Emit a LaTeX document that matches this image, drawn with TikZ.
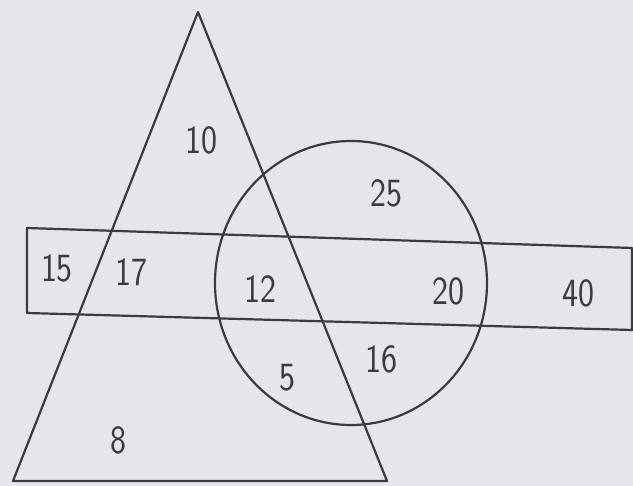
\documentclass[tikz,border=0pt]{standalone}
\usepackage{fontspec}
\definecolor{paper}{HTML}{E4E6E9}
\definecolor{pen}{HTML}{3A3B42}
\tikzstyle{every node}=[text=pen, font={\fontsize{40}{40}\sffamily}, inner sep=0pt, xscale=0.85, transform shape]
\tikzstyle{shape line}=[draw=pen, line width=2.2pt, line join=round]
\begin{document}
\begin{tikzpicture}[x=1pt,y=-1pt]
    \fill [paper] (0,0) rectangle (633,486);
    \useasboundingbox (0,0) rectangle (633,486);
    % triangle, box and circle
    \draw [shape line] (198,12) -- (387,481) -- (13,481) -- cycle;
    \draw [shape line] (27,228) -- (632,248) -- (632,330) -- (27,313) -- cycle;
    \draw [shape line] (351,283) ellipse [x radius=136, y radius=142];
    % numbers
    \node (tri) at (201,140) {10};
    \node (cir) at (386,193) {25};
    \node (box) at (57,268) {15};
    \node (tribox) at (131,272) {17};
    \node (all) at (260,289) {12};
    \node (cirbox) at (448,291) {20};
    \node (out) at (578,293) {40};
    \node (tricir) at (287,378) {5};
    \node (cironly) at (381,359) {16};
    \node (trionly) at (118,440) {8};
\end{tikzpicture}
\end{document}
